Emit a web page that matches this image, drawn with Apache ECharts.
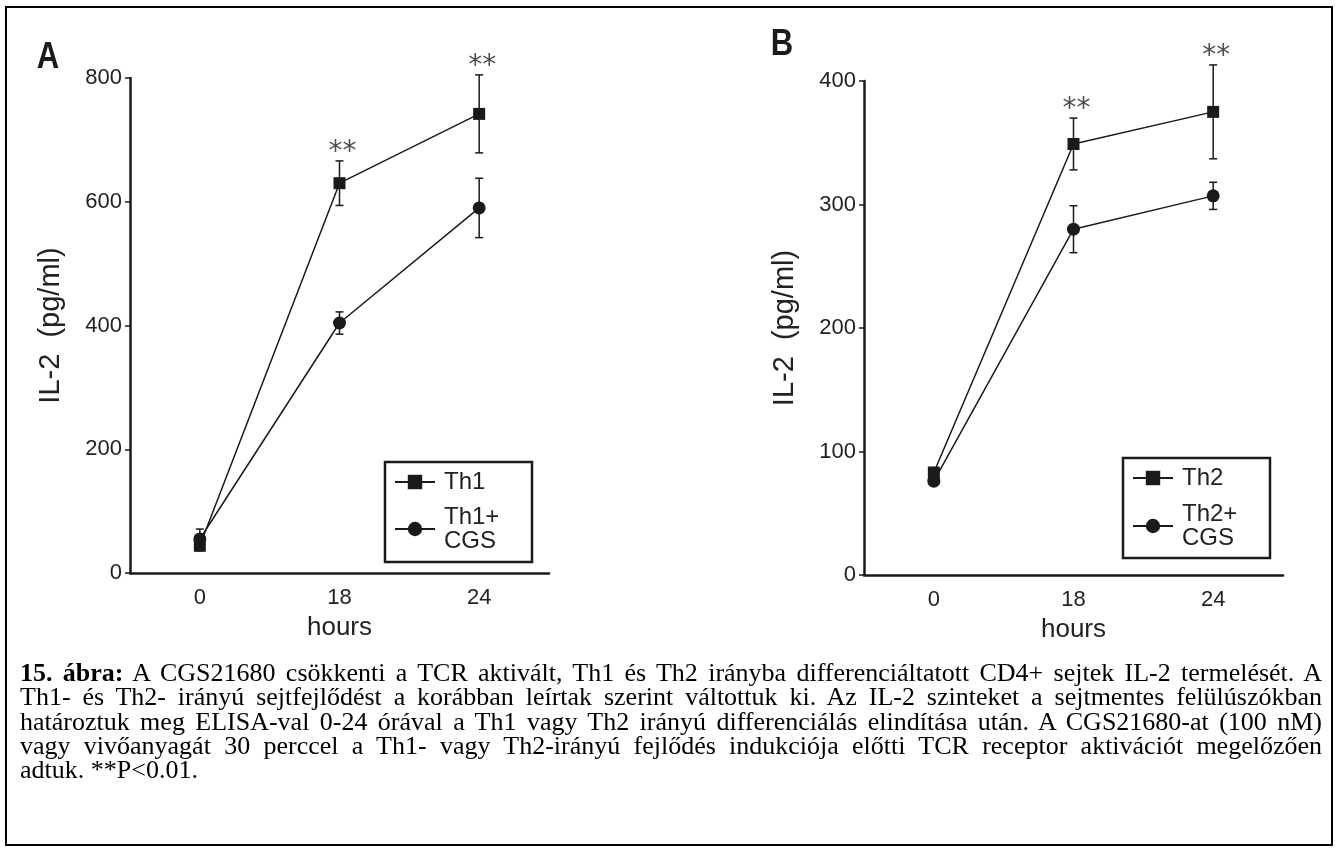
<!DOCTYPE html>
<html>
<head>
<meta charset="utf-8">
<script src="https://cdn.jsdelivr.net/npm/echarts@6/dist/echarts.min.js"></script>
<style>
html,body{margin:0;padding:0;background:#fff;}
#wrap{position:relative;width:1337px;height:852px;overflow:hidden;}
#chart{position:absolute;left:0;top:0;width:1337px;height:852px;}
#frame{position:absolute;left:5px;top:6px;width:1328px;height:840px;border:2px solid #000;box-sizing:border-box;pointer-events:none;}
#caption{position:absolute;left:20px;width:1302px;top:661px;font-family:'Liberation Serif','Times New Roman',serif;font-size:24px;line-height:24.3px;color:#000;}
#caption .l{text-align:justify;text-align-last:justify;}
#caption .last{text-align:left;}
</style>
</head>
<body>
<div id="wrap">
  <div id="chart"></div>
  <div id="frame"></div>
  <div id="caption">
    <div class="l"><b>15. ábra:</b> A CGS21680 csökkenti a TCR aktivált, Th1 és Th2 irányba differenciáltatott CD4+ sejtek IL-2 termelését. A</div>
    <div class="l">Th1- és Th2- irányú sejtfejlődést a korábban leírtak szerint váltottuk ki. Az IL-2 szinteket a sejtmentes felülúszókban</div>
    <div class="l">határoztuk meg ELISA-val 0-24 órával a Th1 vagy Th2 irányú differenciálás elindítása után. A CGS21680-at (100 nM)</div>
    <div class="l">vagy vivőanyagát 30 perccel a Th1- vagy Th2-irányú fejlődés indukciója előtti TCR receptor aktivációt megelőzően</div>
    <div class="last">adtuk. **P&lt;0.01.</div>
  </div>
</div>
<script>
// ---- data ----
const hours = ['0', '18', '24'];
const yTicksA = [0, 200, 400, 600, 800];
const yTicksB = [0, 100, 200, 300, 400];

const th1 = [44, 630, 742];
const th1Err = [8, 36, 63];
const th1Cgs = [55, 404, 590];
const th1CgsErr = [16, 18, 48];

const th2 = [83, 349, 375];
const th2Err = [3, 21, 38];
const th2Cgs = [76, 280, 307];
const th2CgsErr = [3, 19, 11];

const sigA = ['', '**', '**'];
const sigB = ['', '**', '**'];

const namesA = ['Th1', 'Th1+\nCGS'];
const namesB = ['Th2', 'Th2+\nCGS'];
const yNameA = 'IL-2  (pg/ml)';
const yNameB = 'IL-2  (pg/ml)';
const xName = 'hours';

// ---- caption size fit (line 1 fills the width with normal spacing) ----
(function fitCaption() {
  const cap = document.getElementById('caption');
  const first = cap.querySelector('.l');
  const probe = document.createElement('span');
  probe.style.whiteSpace = 'nowrap';
  probe.style.position = 'absolute';
  probe.style.visibility = 'hidden';
  probe.innerHTML = first.innerHTML;
  cap.appendChild(probe);
  let fs = 26;
  while (fs > 18) {
    probe.style.fontSize = fs + 'px';
    if (probe.getBoundingClientRect().width <= 1294) break;
    fs -= 0.25;
  }
  cap.style.fontSize = fs + 'px';
  cap.removeChild(probe);
})();

// ---- styling ----
const INK = '#1a1a1a';
const TXT = '#222';
const FONT = "'Liberation Sans', Arial, sans-serif";

function xAxisCfg(gi) {
  return {
    gridIndex: gi, type: 'category', data: hours, boundaryGap: true,
    axisLine: { lineStyle: { color: INK, width: 2.5 } },
    axisTick: { alignWithLabel: true, length: 6, lineStyle: { color: INK, width: 1.5 } },
    axisLabel: { margin: 14, fontSize: 22, fontFamily: FONT, color: TXT },
    splitLine: { show: false },
    name: xName, nameLocation: 'middle', nameGap: 42,
    nameTextStyle: { fontSize: 26, fontFamily: FONT, color: TXT }
  };
}
function yAxisCfg(gi, ticks, name) {
  return {
    gridIndex: gi, type: 'value', min: ticks[0], max: ticks[ticks.length - 1],
    interval: ticks[1] - ticks[0],
    axisLine: { show: true, lineStyle: { color: INK, width: 2.5 } },
    axisTick: { show: true, length: 5, lineStyle: { color: INK, width: 1.5 } },
    axisLabel: { margin: 8, fontSize: 22, fontFamily: FONT, color: TXT },
    splitLine: { show: false },
    name: name, nameLocation: 'middle', nameGap: 65, nameRotate: 90,
    nameTextStyle: { fontSize: 29, fontFamily: FONT, color: TXT }
  };
}
function lineSeries(gi, name, vals, symbol) {
  return {
    type: 'line', name: name, xAxisIndex: gi, yAxisIndex: gi, data: vals,
    symbol: symbol, symbolSize: symbol === 'rect' ? 12 : 13, showSymbol: true,
    lineStyle: { color: INK, width: 1.5 }, itemStyle: { color: INK },
    z: symbol === 'rect' ? 4 : 3, animation: false
  };
}
function errSeries(gi, vals, errs) {
  return {
    type: 'custom', xAxisIndex: gi, yAxisIndex: gi, silent: true, animation: false, z: 2, clip: false,
    data: vals.map((v, i) => [i, v - errs[i], v + errs[i]]),
    encode: { x: 0, y: [1, 2] },
    renderItem: function (params, api) {
      const lo = api.coord([api.value(0), api.value(1)]);
      const hi = api.coord([api.value(0), api.value(2)]);
      const hw = 4;
      const st = { stroke: INK, lineWidth: 1.5 };
      return {
        type: 'group', children: [
          { type: 'line', shape: { x1: lo[0], y1: lo[1], x2: hi[0], y2: hi[1] }, style: st },
          { type: 'line', shape: { x1: hi[0] - hw, y1: hi[1], x2: hi[0] + hw, y2: hi[1] }, style: st },
          { type: 'line', shape: { x1: lo[0] - hw, y1: lo[1], x2: lo[0] + hw, y2: lo[1] }, style: st }
        ]
      };
    }
  };
}
function sigSeries(gi, vals, errs, sig) {
  return {
    type: 'scatter', xAxisIndex: gi, yAxisIndex: gi, silent: true, animation: false, z: 5, clip: false,
    symbolSize: 1, itemStyle: { color: 'rgba(0,0,0,0)' },
    data: vals.map((v, i) => ({ value: [i, v + errs[i]], label: { show: sig[i] !== '' } })),
    label: {
      show: true, position: 'top', distance: 0, offset: [3, 6],
      formatter: p => sig[p.dataIndex],
      fontSize: 28, fontFamily: "'DejaVu Sans', sans-serif", color: '#222'
    }
  };
}

const chart = echarts.init(document.getElementById('chart'), null, { renderer: 'canvas' });
chart.setOption({
  backgroundColor: 'transparent',
  animation: false,
  grid: [
    { left: 130, top: 78, width: 419, height: 495 },
    { left: 864, top: 81, width: 419, height: 494 }
  ],
  xAxis: [xAxisCfg(0), xAxisCfg(1)],
  yAxis: [yAxisCfg(0, yTicksA, yNameA), yAxisCfg(1, yTicksB, yNameB)],
  legend: [
    {
      data: namesA, orient: 'vertical', left: 394, top: 470, padding: 0,
      itemWidth: 40, itemHeight: 18, itemGap: 11, selectedMode: false,
      textStyle: { fontSize: 24, lineHeight: 24, fontFamily: FONT, color: TXT, padding: [0, 0, 0, 4] }
    },
    {
      data: namesB, orient: 'vertical', left: 1132, top: 466, padding: 0,
      itemWidth: 40, itemHeight: 18, itemGap: 12, selectedMode: false,
      textStyle: { fontSize: 24, lineHeight: 24, fontFamily: FONT, color: TXT, padding: [0, 0, 0, 4] }
    }
  ],
  graphic: [
    { type: 'rect', shape: { x: 385, y: 462, width: 147, height: 100 }, style: { fill: 'none', stroke: INK, lineWidth: 2.5 }, silent: true },
    { type: 'rect', shape: { x: 1123, y: 458, width: 147, height: 100 }, style: { fill: 'none', stroke: INK, lineWidth: 2.5 }, silent: true },
    { type: 'text', x: 48, y: 58, scaleX: 0.84, style: { text: 'A', font: "bold 37px 'Liberation Sans', Arial, sans-serif", fill: INK, textAlign: 'center', textVerticalAlign: 'middle' }, silent: true },
    { type: 'text', x: 782, y: 45, scaleX: 0.84, style: { text: 'B', font: "bold 37px 'Liberation Sans', Arial, sans-serif", fill: INK, textAlign: 'center', textVerticalAlign: 'middle' }, silent: true }
  ],
  series: [
    errSeries(0, th1Cgs, th1CgsErr),
    errSeries(0, th1, th1Err),
    lineSeries(0, namesA[1], th1Cgs, 'circle'),
    lineSeries(0, namesA[0], th1, 'rect'),
    sigSeries(0, th1, th1Err, sigA),
    errSeries(1, th2Cgs, th2CgsErr),
    errSeries(1, th2, th2Err),
    lineSeries(1, namesB[1], th2Cgs, 'circle'),
    lineSeries(1, namesB[0], th2, 'rect'),
    sigSeries(1, th2, th2Err, sigB)
  ]
});
</script>
</body>
</html>
